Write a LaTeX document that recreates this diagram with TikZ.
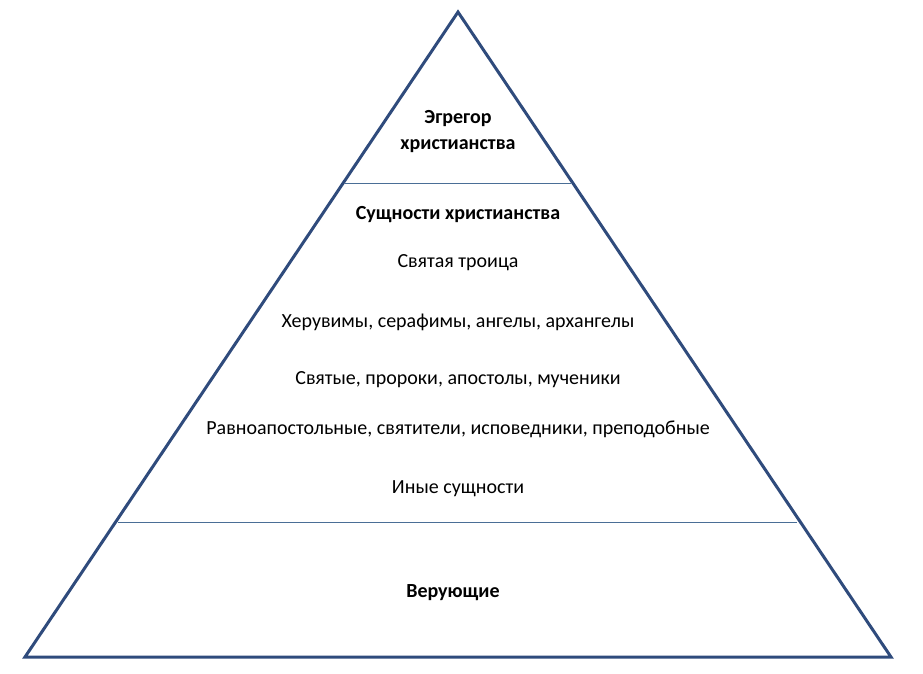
\documentclass[tikz,border=0pt]{standalone}
\usepackage{fontspec}
\setmainfont{Carlito}
\definecolor{edgeblue}{HTML}{2F4B7C}
\definecolor{lineblue}{HTML}{4A6E96}
\begin{document}
\begin{tikzpicture}[x=1pt,y=-1pt,
  lbl/.style={font=\fontsize{20}{24}\selectfont, inner sep=0pt, anchor=center},
  blbl/.style={lbl, font=\fontsize{20}{26}\selectfont\bfseries, align=center}]
\useasboundingbox (0,0) rectangle (923,674);
\coordinate (apex) at (458,12);
\coordinate (bl) at (25,657);
\coordinate (br) at (891,657);
\draw[edgeblue, line width=3pt, line join=miter] (apex) -- (br) -- (bl) -- cycle;
\coordinate (t1) at (345,183);
\coordinate (t2) at (571,183);
\coordinate (b1) at (118,522);
\coordinate (b2) at (797,522);
\draw[lineblue, line width=1pt] (t1) -- (t2);
\draw[lineblue, line width=1pt] (b1) -- (b2);
\node[blbl] (egr) at (458,132) {Эгрегор\\христианства};
\node[blbl] (sush) at (458,215) {Сущности христианства};
\node[lbl] (tr) at (458,263) {Святая троица};
\node[lbl] (her) at (458,322) {Херувимы, серафимы, ангелы, архангелы};
\node[lbl] (sv) at (458,380) {Святые, пророки, апостолы, мученики};
\node[lbl] (ravn) at (458,429) {Равноапостольные, святители, исповедники, преподобные};
\node[lbl] (in) at (458,489) {Иные сущности};
\node[blbl] (ver) at (453,593) {Верующие};
\end{tikzpicture}
\end{document}
